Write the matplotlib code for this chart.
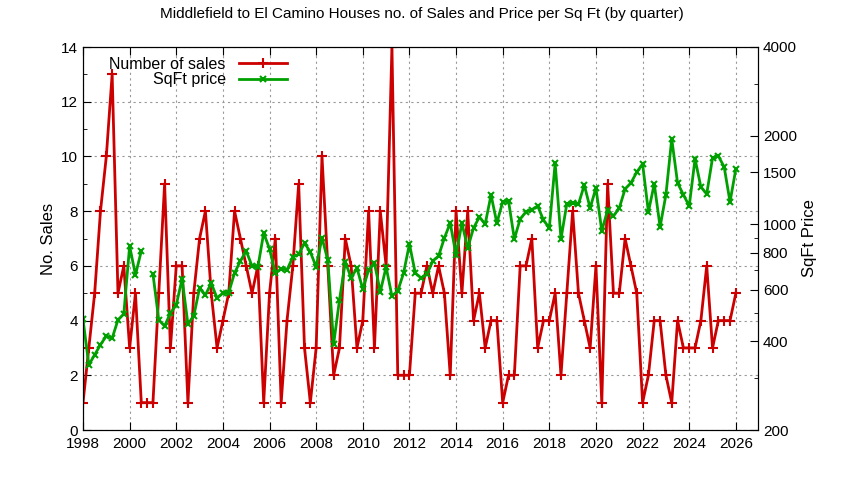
import numpy as np
import matplotlib
matplotlib.use("Agg")
import matplotlib.pyplot as plt
from matplotlib.ticker import FixedLocator, NullFormatter

plt.rcParams['font.family'] = ['Liberation Sans', 'DejaVu Sans']

start_year = 1998
sales = [1,3,5,8, 10,13,5,6, 3,5,1,1, 1,5,9,3, 6,6,1,5, 7,8,5,3, 4,5,8,7,
         6,5,6,1, 5,7,1,4, 6,9,3,1, 3,10,6,2, 3,7,6,3, 4,8,3,8, 6,14,2,2,
         2,5,5,6, 5,6,5,2, 8,5,8,4, 5,3,4,4, 1,2,2,6, 6,7,3,4, 4,5,2,5,
         8,5,4,3, 6,1,9,5, 5,7,6,5, 1,2,4,4, 2,1,4,3, 3,3,4,6, 3,4,4,4, 5]
price = [475,333,360,390, 417,410,473,496, 843,673,811,np.nan, 678,473,451,499,
         532,652,458,488, 607,575,631,561, 584,586,683,750, 811,721,715,934,
         824,683,705,700, 774,790,863,805, 716,900,755,392, 553,744,657,710,
         602,699,738,589, 716,570,593,683, 857,683,657,675, 750,780,898,1010,
         785,1010,830,971, 1058,1002,1257,1010, 1191,1200,891,1042, 1101,1120,1153,1033,
         971,1614,891,1172, 1180,1170,1359,1135, 1328,949,1117,1066, 1135,1318,1381,1503,
         1603,1101,1371,980, 1257,1950,1381,1260, 1153,1667,1338,1267, 1679,1706,1564,1191, 1541]
x_ticks = list(range(1998, 2027, 2))
right_ticks = [200, 400, 600, 800, 1000, 1500, 2000, 4000]

t = start_year + np.arange(len(sales)) * 0.25

fig = plt.figure(figsize=(8.44, 4.8), dpi=100)
ax = fig.add_axes([83/844, 50/480, 675/844, 383/480])
ax2 = ax.twinx()

red = '#cc0000'
green = '#00a000'
l1, = ax.plot(t, sales, color=red, lw=2, marker='+', ms=7, mew=1.5, label='Number of sales')
l2, = ax2.plot(t, price, color=green, lw=2, marker='x', ms=5, mew=1.5, label='SqFt price')

ax.set_xlim(1998, 2026.95)
ax.set_ylim(0, 14)
ax.set_xticks(x_ticks)
ax.set_xticklabels([str(v) for v in x_ticks])
ax.set_yticks(range(0, 15, 2))
ax.set_yticks(np.arange(0, 14.5, 1), minor=True)
ax.grid(True, color='#999999', ls=(0, (2, 3)), lw=0.8)
ax.tick_params(which='both', direction='in', top=True, labelsize=11)
ax.tick_params(axis='x', pad=5)
ax.tick_params(which='major', length=6)
ax.tick_params(which='minor', length=3)
ax.set_ylabel('No. Sales', fontsize=12)

ax2.set_yscale('log')
ax2.set_ylim(200, 4000)
ax2.yaxis.set_major_locator(FixedLocator(right_ticks))
ax2.yaxis.set_minor_locator(FixedLocator([300, 500, 700, 900, 3000]))
ax2.yaxis.set_minor_formatter(NullFormatter())
ax2.set_yticklabels([str(v) for v in right_ticks])
ax2.tick_params(which='both', direction='in', labelsize=11)
ax2.tick_params(which='major', length=6)
ax2.tick_params(which='minor', length=3)
ax2.set_ylabel('SqFt Price', fontsize=12)

ax2.legend(handles=[l1, l2], loc='upper left', bbox_to_anchor=(0.025, 1.0),
           frameon=False, markerfirst=False, fontsize=11.5, handlelength=3,
           labelspacing=0.05, borderaxespad=0.2)

fig.suptitle('Middlefield to El Camino Houses no. of Sales and Price per Sq Ft (by quarter)',
             fontsize=11, y=0.985)
fig.savefig('out.png', dpi=100)
